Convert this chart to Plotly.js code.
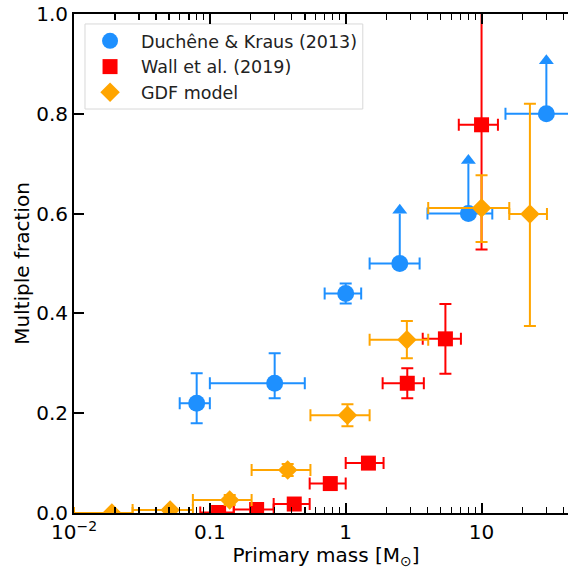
<!DOCTYPE html>
<html>
<head>
<meta charset="utf-8">
<script src="https://cdn.plot.ly/plotly-3.0.1.min.js"></script>
<style>
html,body{margin:0;padding:0;overflow:hidden;background:#fff;}
#plot{width:578px;height:569px;}
</style>
</head>
<body>
<div id="plot"></div>
<script>
// Duchêne & Kraus (2013)
const dkMass = [0.08, 0.3, 1.0, 2.5, 8, 30];
const dkFrac = [0.22, 0.26, 0.44, 0.50, 0.60, 0.80];
const dkMassErrLo = [0.02, 0.2, 0.3, 1.0, 4, 15];
const dkMassErrHi = [0.02, 0.2, 0.3, 1.0, 4, 15];
const dkFracErrLo = [0.04, 0.03, 0.02, 0, 0, 0];
const dkFracErrHi = [0.06, 0.06, 0.02, 0, 0, 0];
const dkLowerLimit = [0, 0, 0, 0.1, 0.1, 0.1]; // arrow length for lower limits

// Wall et al. (2019)
const wMass = [0.116, 0.221, 0.418, 0.77, 1.47, 2.84, 5.42, 10.0];
const wFrac = [0.001, 0.007, 0.018, 0.059, 0.100, 0.260, 0.349, 0.778];
const wMassLo = [0.085, 0.150, 0.295, 0.543, 1.00, 1.87, 3.69, 6.8];
const wMassHi = [0.150, 0.295, 0.543, 1.00, 1.90, 3.76, 7.05, 13.2];
const wFracErrLo = [0.003, 0.004, 0.006, 0.008, 0.010, 0.030, 0.070, 0.250];
const wFracErrHi = [0.003, 0.004, 0.006, 0.008, 0.010, 0.030, 0.070, 0.250];

// GDF model
const gMass = [0.019, 0.051, 0.14, 0.374, 1.03, 2.82, 10.0, 22.7];
const gFrac = [0.000, 0.006, 0.026, 0.086, 0.196, 0.347, 0.611, 0.599];
const gMassLo = [0.010, 0.027, 0.075, 0.203, 0.55, 1.50, 4.05, 16.0];
const gMassHi = [0.027, 0.075, 0.203, 0.55, 1.50, 4.05, 16.0, 30.3];
const gFracErrLo = [0.002, 0.003, 0.010, 0.012, 0.022, 0.037, 0.068, 0.224];
const gFracErrHi = [0.002, 0.003, 0.010, 0.012, 0.022, 0.038, 0.066, 0.221];

const xTickVals = [0.01, 0.1, 1, 10];
const xTickText = ['10<sup>\u22122</sup>', '0.1', '1', '10'];
const yTickVals = [0, 0.2, 0.4, 0.6, 0.8, 1.0];

const BLUE = '#1E90FF', RED = '#FF0000', ORANGE = '#FFA500';

function errbar(color, plus, minus) {
  return {type: 'data', symmetric: false, array: plus, arrayminus: minus,
          color: color, thickness: 2, width: 6};
}

const traces = [];
// arrows for lower limits (Duchêne & Kraus)
const arrX = [], arrY = [], headX = [], headY = [];
dkMass.forEach((m, i) => {
  if (dkLowerLimit[i] > 0) {
    arrX.push(m, m, null);
    arrY.push(dkFrac[i], dkFrac[i] + dkLowerLimit[i], null);
    headX.push(m);
    headY.push(dkFrac[i] + dkLowerLimit[i] + 0.0065);
  }
});
traces.push({x: arrX, y: arrY, mode: 'lines', line: {color: BLUE, width: 2},
             showlegend: false, hoverinfo: 'skip'});
traces.push({x: headX, y: headY, mode: 'markers',
             marker: {symbol: 'triangle-up', size: 13, color: BLUE},
             showlegend: false, hoverinfo: 'skip'});
traces.push({
  name: 'Duchêne & Kraus (2013)', x: dkMass, y: dkFrac, mode: 'markers',
  marker: {symbol: 'circle', size: 17, color: BLUE},
  error_x: errbar(BLUE, dkMassErrHi, dkMassErrLo),
  error_y: errbar(BLUE, dkFracErrHi, dkFracErrLo)
});
traces.push({
  name: 'Wall et al. (2019)', x: wMass, y: wFrac, mode: 'markers',
  marker: {symbol: 'square', size: 15, color: RED},
  error_x: errbar(RED, wMassHi.map((h, i) => h - wMass[i]), wMassLo.map((l, i) => wMass[i] - l)),
  error_y: errbar(RED, wFracErrHi, wFracErrLo)
});
traces.push({
  name: 'GDF model', x: gMass, y: gFrac, mode: 'markers',
  marker: {symbol: 'diamond', size: 15, color: ORANGE},
  error_x: errbar(ORANGE, gMassHi.map((h, i) => h - gMass[i]), gMassLo.map((l, i) => gMass[i] - l)),
  error_y: errbar(ORANGE, gFracErrHi, gFracErrLo)
});

const minorVals = [];
for (let k = -2; k <= 1; k++) for (let d = 2; d <= 9; d++) minorVals.push(d * Math.pow(10, k));

const font = {family: 'DejaVu Sans', size: 20, color: '#000'};
const layout = {
  width: 578, height: 569,
  margin: {l: 74, r: 0, t: 14, b: 56, pad: 0},
  paper_bgcolor: '#fff', plot_bgcolor: '#fff',
  font: font,
  showlegend: true,
  legend: {x: 0.01, y: 0.982, xanchor: 'left', yanchor: 'top',
           bgcolor: 'rgba(0,0,0,0)', borderwidth: 0,
           font: {family: 'DejaVu Sans', size: 17.5, color: '#222'}, itemwidth: 52},
  shapes: [{type: 'rect', xref: 'paper', yref: 'paper', layer: 'below',
            x0: 0.0218, x1: 0.573, y0: 0.8096, y1: 0.98,
            fillcolor: 'rgba(255,255,255,0.8)', line: {color: '#d8d8d8', width: 1}}],
  xaxis: {
    type: 'log', range: [-2, 1.71],
    tickvals: xTickVals, ticktext: xTickText,
    ticks: 'inside', ticklen: 10, tickwidth: 2, tickcolor: '#000',
    showline: true, linewidth: 2, linecolor: '#000', mirror: 'allticks',
    showgrid: false, zeroline: false,
    minor: {tickvals: minorVals, ticks: 'inside', ticklen: 6, tickwidth: 1.5, tickcolor: '#000', showgrid: false},
    tickfont: font,
    title: {text: 'Primary mass [M<sub>⊙</sub>]', font: font, standoff: 8},
    automargin: false
  },
  yaxis: {
    range: [0, 1], tickvals: yTickVals, tickformat: '.1f',
    ticks: 'inside', ticklen: 10, tickwidth: 2, tickcolor: '#000',
    showline: true, linewidth: 2, linecolor: '#000', mirror: false,
    showgrid: false, zeroline: false,
    tickfont: font,
    title: {text: 'Multiple fraction', font: font, standoff: 1},
    automargin: false
  }
};
Plotly.newPlot('plot', traces, layout, {displayModeBar: false, staticPlot: true});
</script>
</body>
</html>
